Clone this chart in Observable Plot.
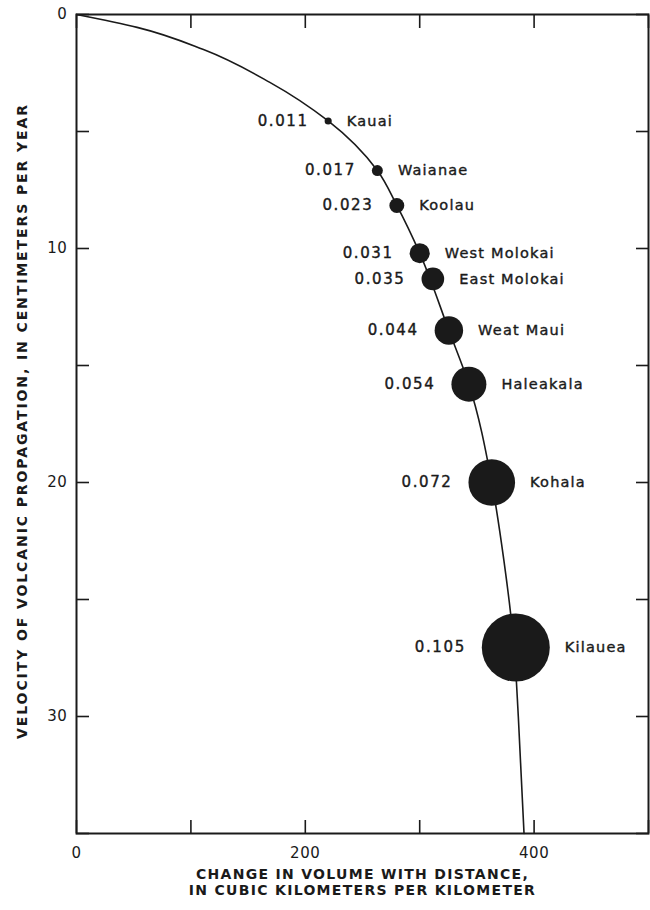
<!DOCTYPE html>
<html>
<head>
<meta charset="utf-8">
<script src="https://cdn.jsdelivr.net/npm/d3@7"></script>
<script src="https://cdn.jsdelivr.net/npm/@observablehq/plot@0.6"></script>
<style>
  body { margin: 0; background: #fff; }
  #chart svg { display: block; }
</style>
</head>
<body>
<div id="chart"></div>
<script>
// Hawaiian volcanoes: change in volume with distance vs. velocity of propagation
const volcanoes = ["Kauai", "Waianae", "Koolau", "West Molokai", "East Molokai", "Weat Maui", "Haleakala", "Kohala", "Kilauea"];
const volumeChange = [220, 263, 280, 300, 311.5, 325.5, 343, 363, 384];      // km³ per km
const velocity = [4.55, 6.67, 8.16, 10.2, 11.3, 13.5, 15.8, 20.0, 27.05];    // cm per year
const rate = [0.011, 0.017, 0.023, 0.031, 0.035, 0.044, 0.054, 0.072, 0.105];

// fitted curve traced through the volcanoes
const curveVolume = [0, 53, 111, 169, 220, 263, 280, 300, 325.5, 343, 363, 373.5, 382.5, 386.2, 391.2];
const curveVelocity = [0, 0.55, 1.5, 2.9, 4.55, 6.67, 8.16, 10.2, 13.5, 15.8, 20.0, 23.3, 27.05, 30.0, 35.0];

const xTicks = [0, 100, 200, 300, 400, 500];
const xTickLabels = [0, 200, 400];
const yTicks = [0, 5, 10, 15, 20, 25, 30, 35];
const yTickLabels = [0, 10, 20, 30];

const xTitle = "CHANGE IN VOLUME WITH DISTANCE,\nIN CUBIC KILOMETERS PER KILOMETER";
const yTitle = "VELOCITY OF VOLCANIC PROPAGATION, IN CENTIMETERS PER YEAR";

const ink = "#1a1a1a";
const font = "DejaVu Sans";

const dots = volcanoes.map((name, i) => ({name, x: volumeChange[i], y: velocity[i], rate: rate[i]}));
const curve = curveVolume.map((x, i) => ({x, y: curveVelocity[i]}));

// dot radius grows linearly with the rate
const rMax = 34;
const radius = d3.scaleLinear([0, d3.max(rate)], [0, rMax]);
const fmtRate = v => v.toFixed(3);

const tickLen = -13; // ticks point inward

const labelStyle = {fontFamily: font, fill: ink, stroke: ink, strokeWidth: 0.4};

const rateLabels = dots.map(d => Plot.text([d], {
  x: "x", y: "y", text: v => fmtRate(v.rate),
  textAnchor: "end", dx: -(radius(d.rate) + 16),
  fontSize: 15, ...labelStyle
}));
const nameLabels = dots.map(d => Plot.text([d], {
  x: "x", y: "y", text: "name",
  textAnchor: "start", dx: radius(d.rate) + 15,
  fontSize: 14.5, ...labelStyle
}));

const chart = Plot.plot({
  width: 650,
  height: 910,
  marginTop: 14,
  marginLeft: 76,
  marginRight: 2,
  marginBottom: 77,
  style: {fontFamily: font, color: ink, background: "#fff"},
  x: {domain: [0, 500]},
  y: {domain: [0, 35], reverse: true},
  r: {type: "linear", domain: [0, d3.max(rate)], range: [0, rMax]},
  marks: [
    Plot.axisX({anchor: "bottom", ticks: xTicks, tickSize: tickLen, tickPadding: 27, strokeWidth: 1.6,
      tickFormat: d => xTickLabels.includes(d) ? String(d) : "", fontSize: 15, label: null}),
    Plot.axisX({anchor: "top", ticks: xTicks, tickSize: tickLen, strokeWidth: 1.6, tickFormat: () => "", label: null}),
    Plot.axisY({anchor: "left", ticks: yTicks, tickSize: tickLen, tickPadding: 22, strokeWidth: 1.6,
      tickFormat: d => yTickLabels.includes(d) ? String(d) : "", fontSize: 15, label: null}),
    Plot.axisY({anchor: "right", ticks: yTicks, tickSize: tickLen, strokeWidth: 1.6, tickFormat: () => "", label: null}),
    Plot.frame({stroke: ink, strokeWidth: 2}),
    Plot.line(curve, {x: "x", y: "y", curve: "monotone-y", stroke: ink, strokeWidth: 1.6}),
    Plot.dot(dots, {x: "x", y: "y", r: "rate", fill: ink, stroke: "none"}),
    ...rateLabels,
    ...nameLabels,
    Plot.text([xTitle], {frameAnchor: "bottom", dy: 48, text: d => d, textAnchor: "middle", lineAnchor: "middle", lineHeight: 1.14,
      fontSize: 14, fontWeight: "bold", fontFamily: font, fill: ink}),
    Plot.text([yTitle], {frameAnchor: "left", dx: -54, dy: -3, rotate: -90, text: d => d, textAnchor: "middle", lineAnchor: "middle",
      fontSize: 14, fontWeight: "bold", fontFamily: font, fill: ink})
  ]
});

// wider letter spacing, chosen by what each text says
const rateTexts = new Set(rate.map(fmtRate));
const nameTexts = new Set(volcanoes);
const tickTexts = new Set([...xTickLabels, ...yTickLabels].map(String));
chart.querySelectorAll("text").forEach(t => {
  const s = t.textContent;
  let ls = null;
  if (rateTexts.has(s)) ls = "1.6px";
  else if (nameTexts.has(s)) ls = "1.2px";
  else if (tickTexts.has(s)) ls = "0.6px";
  else if (s.startsWith("VELOCITY")) ls = "1.9px";
  else if (s.startsWith("CHANGE")) ls = "1.3px";
  if (ls) t.style.letterSpacing = ls;
});

document.getElementById("chart").append(chart);
</script>
</body>
</html>
